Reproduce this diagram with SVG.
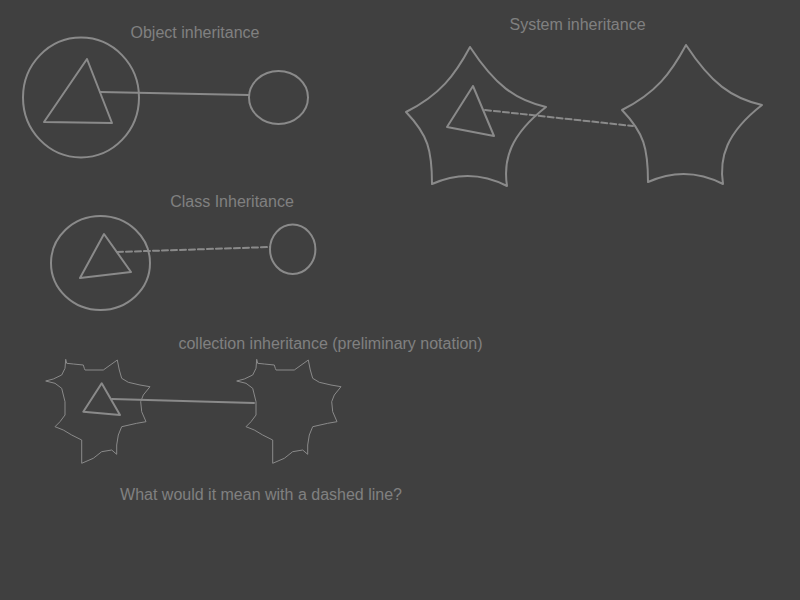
<svg xmlns="http://www.w3.org/2000/svg" width="800" height="600" viewBox="0 0 800 600">
<style>
.t{font-family:"Liberation Sans",Arial,sans-serif;font-size:16px;fill:#808080;text-anchor:middle}
.s{fill:none;stroke:#8a8a8a;stroke-width:2;stroke-linejoin:round;stroke-linecap:round}
.j{fill:none;stroke:#8a8a8a;stroke-width:1;stroke-linejoin:round}
.d{stroke-dasharray:6,3}
</style>
<defs>
<path id="star" d="M470,47 C495,85 515,100 546,107 C510,135 503,160 507,186 Q470,167 432,184 C432,150 428,135 406,112 C440,95 455,75 470,47 Z"/>
<path id="cog" d="M65.7,359.3 L66.7,363.3 L73.3,364 L83.3,365 L84.3,368.3 L85,370 L103.3,370 L117.3,360 L119.3,370 L121.7,378.3 L128.3,382.3 L140,385 L150,386.7 L143.3,395 L140.7,401.7 L141.7,411.7 L146,421.7 L136.7,423.3 L121.7,426.7 L118.3,435 L116.7,445 L116.7,454.3 L111.7,450 L101.7,451.7 L93.3,458.3 L81.7,463.3 L81.7,440 L71.7,435 L63.3,430 L55,426.7 L60,421.7 L65,415 L65,401.7 L61.7,388.3 L55,383.3 L45.7,381 L53.3,379 L61.7,375 L65,368.3 Z"/>
</defs>
<rect width="800" height="600" fill="#404040"/>
<g id="labels">
<text class="t" x="195" y="38">Object inheritance</text>
<text class="t" x="577.5" y="30">System inheritance</text>
<text class="t" x="232" y="207">Class Inheritance</text>
<text class="t" x="330.5" y="349">collection inheritance (preliminary notation)</text>
<text class="t" x="261" y="500">What would it mean with a dashed line?</text>
</g>
<g id="connectors">
<line class="s" x1="100" y1="92" x2="249" y2="95"/>
<line class="s d" x1="485" y1="110" x2="633" y2="126"/>
<line class="s d" x1="117" y1="252" x2="270" y2="247"/>
<line class="s" x1="112" y1="399" x2="254" y2="403"/>
</g>
<g id="object-parent">
<ellipse class="s" cx="81" cy="97.5" rx="58" ry="60"/>
<polygon class="s" points="87,59 44,122 112,123"/>
</g>
<g id="object-child"><ellipse class="s" cx="278.5" cy="97.5" rx="29.5" ry="26.5"/></g>
<g id="system-parent">
<use href="#star" class="s"/>
<polygon class="s" points="473,86 447,127 494,136"/>
</g>
<g id="system-child"><use href="#star" class="s" transform="translate(216,-2)"/></g>
<g id="class-parent">
<ellipse class="s" cx="100.5" cy="263" rx="49.5" ry="47"/>
<polygon class="s" points="104,234 80,278 131,272"/>
</g>
<g id="class-child"><ellipse class="s" cx="292.7" cy="249.3" rx="22.7" ry="24.7"/></g>
<g id="collection-parent">
<use href="#cog" class="j"/>
<polygon class="s" points="101.7,383.3 83.3,411.7 120,415"/>
</g>
<g id="collection-child"><use href="#cog" class="j" transform="translate(191,0)"/></g>
</svg>
